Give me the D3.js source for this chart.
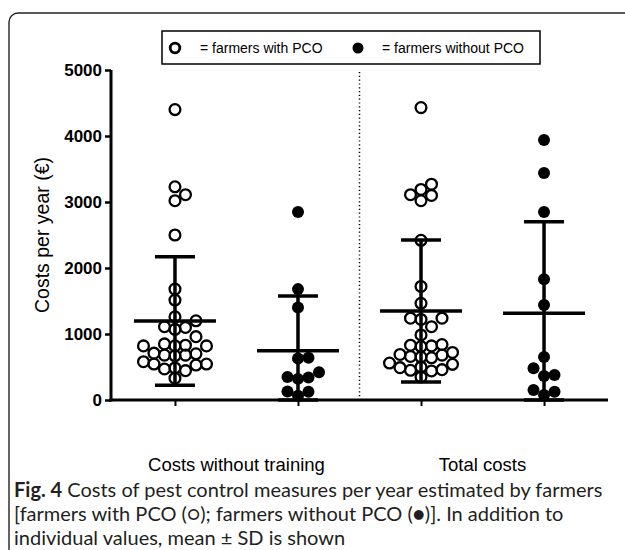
<!DOCTYPE html>
<html>
<head>
<meta charset="utf-8">
<script src="https://cdn.jsdelivr.net/npm/d3@7"></script>
<style>
  html, body { margin: 0; padding: 0; background: #fff; }
  svg { display: block; }
</style>
</head>
<body>
<svg id="chart" width="625" height="550"></svg>
<script>
// ---------------- data ----------------
const groups = ["g1", "g2", "g3", "g4"];
const categories = ["Costs without training", "Total costs"];
const groupType = ["with", "without", "with", "without"]; // with PCO = open, without PCO = filled

const withPcoNoTraining = [4400, 3230, 3110, 3020, 2500, 1680, 1515, 1260, 1200, 1110, 1100, 1070,
  960, 850, 830, 820, 820, 820, 710, 700, 680, 680, 670, 580, 545, 545, 530, 485, 470, 445, 330];
const withoutPcoNoTraining = [2850, 1680, 1400, 640, 630, 420, 350, 340, 320, 130, 125, 65];
const withPcoTotal = [4430, 3270, 3190, 3110, 3100, 3020, 2420, 1720, 1465, 1240, 1240, 1220, 1110,
  985, 840, 830, 820, 810, 720, 690, 680, 660, 650, 640, 560, 540, 500, 490, 460, 450, 440, 350];
const withoutPcoTotal = [3940, 3440, 2850, 1830, 1440, 650, 480, 380, 365, 150, 125, 75];

const groupValues = [withPcoNoTraining, withoutPcoNoTraining, withPcoTotal, withoutPcoTotal];
const means = [1197, 747, 1348, 1314];
const sds = [975, 829, 1076, 1388];

const yTicks = [0, 1000, 2000, 3000, 4000, 5000];
const yTitle = "Costs per year (€)";
const legendLabels = ["= farmers with PCO", "= farmers without PCO"];
const captionLines = [
  [{t: "Fig. 4", b: true}, {t: " Costs of pest control measures per year estimated by farmers", b: false}],
  [{t: "[farmers with PCO (○); farmers without PCO (●)]. In addition to", b: false}],
  [{t: "individual values, mean ± SD is shown", b: false}]
];

// ---------------- drawing ----------------
const svg = d3.select("#chart");
const ARIAL = "'Liberation Sans', Arial, sans-serif";
const CAPF = "Lato, 'Open Sans', sans-serif";

// outer rounded frame
svg.append("rect")
  .attr("x", 9).attr("y", 13).attr("width", 640).attr("height", 600)
  .attr("rx", 9).attr("ry", 9)
  .attr("fill", "none").attr("stroke", "#222").attr("stroke-width", 1.4);

const y = d3.scaleLinear().domain([0, 5000]).range([400, 70]);
const x = d3.scalePoint().domain(groups).range([111, 608]).padding(0.52);
const xAxisLeft = 111, xAxisRight = 608;

// y axis
const yAxis = d3.axisLeft(y).tickValues(yTicks).tickSize(6).tickPadding(3).tickFormat(d3.format("d"));
const gy = svg.append("g").attr("transform", `translate(${xAxisLeft},0)`).call(yAxis);
gy.select(".domain").attr("stroke", "#000").attr("stroke-width", 3).attr("d", `M0,${y(5000)}V${y(0) + 1.5}`);
gy.selectAll(".tick line").attr("stroke", "#000").attr("stroke-width", 2.5);
gy.selectAll(".tick text").attr("font-family", ARIAL).attr("font-weight", "bold")
  .attr("font-size", 17).attr("fill", "#000");

// x axis
const xAxis = d3.axisBottom(x).tickSize(6).tickFormat("");
const gx = svg.append("g").attr("transform", `translate(0,${y(0)})`).call(xAxis);
gx.select(".domain").attr("stroke", "#000").attr("stroke-width", 3).attr("d", `M${xAxisLeft - 1.5},0H${xAxisRight}`);
gx.selectAll(".tick line").attr("stroke", "#000").attr("stroke-width", 2);

// y title
svg.append("text")
  .attr("transform", `translate(49,${(y(0) + y(5000)) / 2}) rotate(-90)`)
  .attr("text-anchor", "middle")
  .attr("font-family", ARIAL).attr("font-size", 19.5).attr("fill", "#000")
  .text(yTitle);

// dotted divider between the two categories
const divX = (x(groups[1]) + x(groups[2])) / 2;
svg.append("line")
  .attr("x1", divX).attr("x2", divX).attr("y1", 72).attr("y2", y(0) - 2)
  .attr("stroke", "#000").attr("stroke-width", 1.5).attr("stroke-dasharray", "1.2,2.6");

// category labels
categories.forEach((c, i) => {
  const cx = (x(groups[i * 2]) + x(groups[i * 2 + 1])) / 2;
  svg.append("text").attr("x", cx).attr("y", 471)
    .attr("text-anchor", "middle").attr("font-family", ARIAL).attr("font-size", 18.5).attr("fill", "#000")
    .text(c);
});

// error bars (mean ± SD)
groups.forEach((g, i) => {
  const cx = x(g);
  const top = means[i] + sds[i];
  const bot = Math.max(0, means[i] - sds[i]);
  const eg = svg.append("g");
  eg.append("line").attr("x1", cx).attr("x2", cx).attr("y1", y(top)).attr("y2", y(bot))
    .attr("stroke", "#000").attr("stroke-width", 3.5);
  eg.append("line").attr("x1", cx - 20).attr("x2", cx + 20).attr("y1", y(top)).attr("y2", y(top))
    .attr("stroke", "#000").attr("stroke-width", 3.5);
  eg.append("line").attr("x1", cx - 20).attr("x2", cx + 20).attr("y1", y(bot)).attr("y2", y(bot))
    .attr("stroke", "#000").attr("stroke-width", 3.5);
  eg.append("line").attr("x1", cx - 41).attr("x2", cx + 41).attr("y1", y(means[i])).attr("y2", y(means[i]))
    .attr("stroke", "#000").attr("stroke-width", 3.5);
});

// beeswarm-like dodge placement
function dodge(values, cx, step, minD) {
  const placed = [];
  const sorted = values.slice().sort((a, b) => a - b);
  for (const v of sorted) {
    const py = y(v);
    let k = 0, px;
    for (;;) {
      const off = k === 0 ? 0 : (k % 2 === 1 ? 1 : -1) * Math.ceil(k / 2) * step;
      const ok = placed.every(q => (q.x - (cx + off)) ** 2 + (q.y - py) ** 2 >= minD * minD);
      if (ok) { px = cx + off; break; }
      k++;
    }
    placed.push({x: px, y: py, v});
  }
  return placed;
}

groups.forEach((g, i) => {
  const pts = dodge(groupValues[i], x(g), 10.5, 9.5);
  const filled = groupType[i] === "without";
  svg.append("g").selectAll("circle").data(pts).join("circle")
    .attr("cx", d => d.x).attr("cy", d => d.y)
    .attr("r", filled ? 6 : 5.4)
    .attr("fill", filled ? "#000" : "none")
    .attr("stroke", "#000").attr("stroke-width", filled ? 0 : 2.3);
});

// legend
const lg = svg.append("g");
lg.append("rect").attr("x", 162).attr("y", 31).attr("width", 378).attr("height", 33)
  .attr("fill", "#fff").attr("stroke", "#000").attr("stroke-width", 1.5);
lg.append("circle").attr("cx", 175).attr("cy", 48).attr("r", 4.8)
  .attr("fill", "none").attr("stroke", "#000").attr("stroke-width", 2.8);
lg.append("text").attr("x", 200).attr("y", 53).attr("font-family", ARIAL).attr("font-size", 14)
  .attr("fill", "#000").text(legendLabels[0]);
lg.append("circle").attr("cx", 358).attr("cy", 48).attr("r", 5.5).attr("fill", "#000");
lg.append("text").attr("x", 382).attr("y", 53).attr("font-family", ARIAL).attr("font-size", 14)
  .attr("fill", "#000").text(legendLabels[1]);

// caption
const capBase = [497, 521, 545];
captionLines.forEach((line, li) => {
  const t = svg.append("text").attr("x", 14).attr("y", capBase[li])
    .attr("font-family", CAPF).attr("font-size", 20).attr("fill", "#231f20");
  line.forEach(seg => {
    t.append("tspan").attr("font-weight", seg.b ? "bold" : "normal").text(seg.t);
  });
});
</script>
</body>
</html>
